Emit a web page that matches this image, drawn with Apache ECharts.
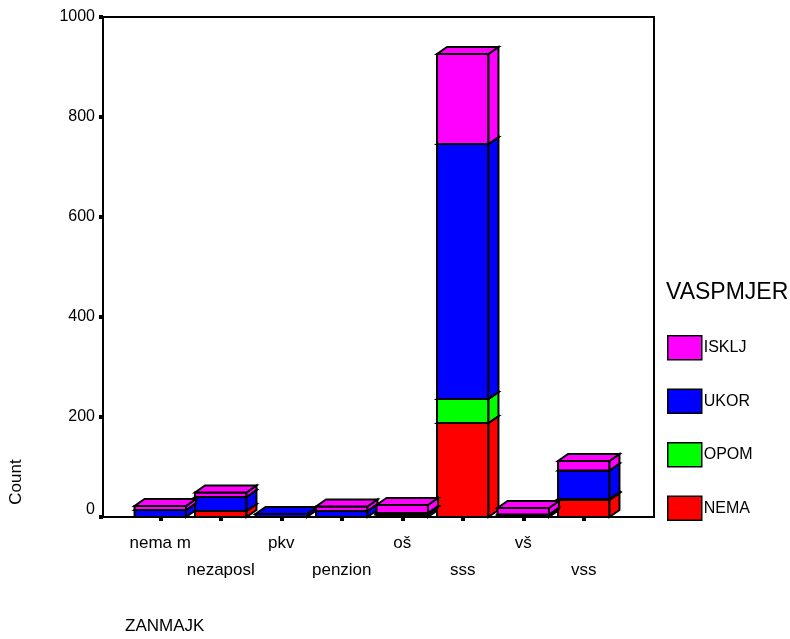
<!DOCTYPE html>
<html>
<head>
<meta charset="utf-8">
<script src="https://cdn.jsdelivr.net/npm/echarts@6/dist/echarts.min.js"></script>
<style>
  html, body { margin: 0; padding: 0; background: #fff; }
  #main { width: 790px; height: 639px; }
</style>
</head>
<body>
<div id="main"></div>
<script>
var categories = ['nema m', 'nezaposl', 'pkv', 'penzion', 'oš', 'sss', 'vš', 'vss']
// counts per category
var nema = [0, 12, 0, 0, 5, 188, 2, 34]
var opom = [0, 0, 0, 0, 1, 48, 0, 2]
var ukor = [14, 28, 6, 12, 2, 510, 3, 57]
var isklj = [8, 9, 0, 9, 16, 180, 13, 19]
var yTicks = [0, 200, 400, 600, 800, 1000]

var FONT = 'Liberation Sans, Arial, sans-serif'
var DX = 10, DY = 7

// stacked order bottom -> top
var stack = [
  { name: 'NEMA', values: nema, color: '#ff0000' },
  { name: 'OPOM', values: opom, color: '#00ff00' },
  { name: 'UKOR', values: ukor, color: '#0000ff' },
  { name: 'ISKLJ', values: isklj, color: '#ff00ff' }
]

function renderBox(params, api) {
  var lo = api.value(1), hi = api.value(2)
  if (hi <= lo) return
  var a = api.coord([api.value(0), lo])
  var b = api.coord([api.value(0), hi])
  var w = api.size([1, 0])[0] * 0.85
  var x0 = a[0] - w / 2, x1 = a[0] + w / 2, y0 = a[1], y1 = b[1]
  var style = { fill: api.visual('color'), stroke: '#000', lineWidth: 2 }
  return {
    type: 'group',
    children: [
      { type: 'polygon', shape: { points: [[x0, y0], [x1, y0], [x1, y1], [x0, y1]] }, style: style },
      { type: 'polygon', shape: { points: [[x1, y0], [x1 + DX, y0 - DY], [x1 + DX, y1 - DY], [x1, y1]] }, style: style },
      { type: 'polygon', shape: { points: [[x0, y1], [x1, y1], [x1 + DX, y1 - DY], [x0 + DX, y1 - DY]] }, style: style }
    ]
  }
}

var base = categories.map(function () { return 0 })
var series = stack.map(function (s) {
  var data = s.values.map(function (v, i) {
    var item = [i, base[i], base[i] + v]
    base[i] += v
    return item
  })
  return {
    name: s.name,
    type: 'custom',
    xAxisIndex: 1,
    yAxisIndex: 1,
    renderItem: renderBox,
    itemStyle: { color: s.color },
    encode: { x: 0, y: [1, 2] },
    data: data
  }
})

var chart = echarts.init(document.getElementById('main'))
chart.setOption({
  animation: false,
  textStyle: { fontFamily: FONT, color: '#000' },
  title: [
    { text: 'ZANMAJK', left: 120, top: 613, textStyle: { fontFamily: FONT, fontSize: 17, fontWeight: 'normal', color: '#000' } },
    { text: 'VASPMJER', left: 661, top: 276, textStyle: { fontFamily: FONT, fontSize: 23, fontWeight: 'normal', color: '#000' } }
  ],
  legend: {
    orient: 'vertical',
    left: 667,
    top: 335,
    padding: 0,
    itemWidth: 34,
    itemHeight: 24,
    itemGap: 28,
    icon: 'rect',
    itemStyle: { borderColor: '#000', borderWidth: 1.5 },
    textStyle: { fontFamily: FONT, fontSize: 16, color: '#000', lineHeight: 18, padding: [0, 0, 0, -3] },
    data: ['ISKLJ', 'UKOR', 'OPOM', 'NEMA']
  },
  graphic: [
    {
      type: 'text', x: 16, y: 482, rotation: Math.PI / 2,
      style: { text: 'Count', font: '17px ' + FONT, fill: '#000', align: 'center', verticalAlign: 'middle' }
    }
  ],
  grid: [
    { left: 103, top: 17, width: 551, height: 500, show: true, borderColor: '#000', borderWidth: 2 },
    { left: 130, top: 17, width: 484, height: 500 }
  ],
  xAxis: [
    { type: 'value', gridIndex: 0, show: false },
    {
      type: 'category', gridIndex: 1, data: categories,
      axisLine: { show: false },
      axisTick: { show: true, alignWithLabel: true, length: 4, lineStyle: { color: '#000', width: 4 } },
      axisLabel: {
        interval: 0, margin: 13, fontSize: 17, lineHeight: 27, color: '#000', fontFamily: FONT,
        formatter: function (v, i) { return i % 2 ? '\n' + v : v }
      }
    }
  ],
  yAxis: [
    {
      type: 'value', gridIndex: 0, min: yTicks[0], max: yTicks[yTicks.length - 1], interval: 200,
      axisLine: { show: true, lineStyle: { color: '#000', width: 2 } },
      axisTick: { show: true, length: 4, lineStyle: { color: '#000', width: 4 } },
      splitLine: { show: false },
      axisLabel: {
        fontSize: 16, color: '#000', margin: 8, fontFamily: FONT,
        formatter: function (v) { return v === 0 ? '{z|0}' : String(v) },
        rich: { z: { fontSize: 16, fontFamily: FONT, color: '#000', padding: [0, 0, 14, 0] } }
      }
    },
    { type: 'value', gridIndex: 1, min: 0, max: 1000, show: false }
  ],
  series: series
})
</script>
</body>
</html>
